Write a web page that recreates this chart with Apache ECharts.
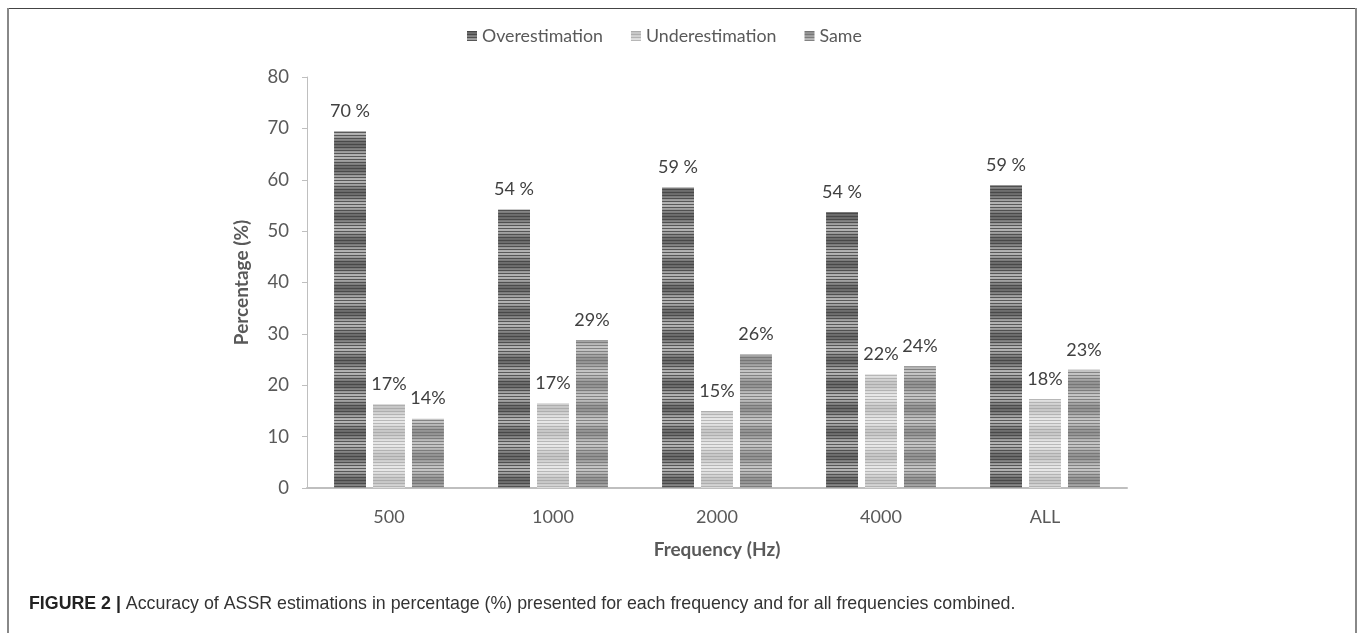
<!DOCTYPE html>
<html>
<head>
<meta charset="utf-8">
<script src="https://cdn.jsdelivr.net/npm/echarts@6/dist/echarts.min.js"></script>
<style>
html,body{margin:0;padding:0;background:#fff;}
#chart{width:1360px;height:633px;}
</style>
</head>
<body>
<div id="chart"></div>
<script>
var categories = ['500', '1000', '2000', '4000', 'ALL'];
var seriesNames = ['Overestimation', 'Underestimation', 'Same'];
var overValues = [69.5, 54.2, 58.5, 53.7, 59.0];
var underValues = [16.3, 16.5, 15.0, 22.2, 17.3];
var sameValues = [13.5, 28.8, 26.0, 23.7, 23.0];
var overLabels = ['70 %', '54 %', '59 %', '54 %', '59 %'];
var underLabels = ['17%', '17%', '15%', '22%', '18%'];
var sameLabels = ['14%', '29%', '26%', '24%', '23%'];
var yTicks = [0, 10, 20, 30, 40, 50, 60, 70, 80];

function stripePattern(dark, light, mid) {
  var c = document.createElement('canvas');
  c.width = 4; c.height = 24;
  var ctx = c.getContext('2d');
  for (var y = 0; y < 24; y++) {
    var band = (Math.cos(y / 24 * Math.PI * 2) + 1) / 2;
    var isDark = (y % 3 === 0);
    var v;
    if (isDark) v = dark + (mid - dark) * (1 - band) * 0.5;
    else v = mid + (light - mid) * (1 - band);
    v = Math.round(v);
    ctx.fillStyle = 'rgb(' + v + ',' + v + ',' + v + ')';
    ctx.fillRect(0, y, 4, 1);
  }
  return { image: c, repeat: 'repeat' };
}

var overFill = stripePattern(72, 180, 105);
var underFill = stripePattern(172, 232, 198);
var sameFill = stripePattern(118, 198, 145);

function mkSeries(name, values, labels, fill) {
  return {
    name: name,
    type: 'bar',
    barGap: '22%',
    barCategoryGap: '33%',
    data: values,
    itemStyle: { color: fill },
    label: {
      show: true,
      position: 'top',
      distance: 11,
      fontFamily: 'Lato',
      fontSize: 18,
      color: '#404040',
      formatter: function (p) { return labels[p.dataIndex]; }
    }
  };
}

var chart = echarts.init(document.getElementById('chart'), null, { renderer: 'canvas' });
chart.setOption({
  backgroundColor: '#fff',
  animation: false,
  legend: {
    data: seriesNames,
    left: 462,
    top: 22,
    itemWidth: 10,
    itemHeight: 10,
    itemGap: 28,
    icon: 'rect',
    textStyle: { fontFamily: 'Lato', fontSize: 17.8, color: '#595959' }
  },
  grid: { left: 307, right: 233, top: 77, bottom: 145, containLabel: false },
  xAxis: {
    type: 'category',
    data: categories,
    name: 'Frequency (Hz)',
    nameLocation: 'middle',
    nameGap: 52,
    nameTextStyle: { fontFamily: 'Lato', fontSize: 19, fontWeight: 'bold', color: '#595959' },
    axisLine: { lineStyle: { color: '#bfbfbf', width: 2 } },
    axisTick: { show: false },
    axisLabel: { margin: 20, fontFamily: 'Lato', fontSize: 18, color: '#595959' }
  },
  yAxis: {
    type: 'value',
    min: yTicks[0],
    max: yTicks[yTicks.length - 1],
    interval: yTicks[1] - yTicks[0],
    name: 'Percentage (%)',
    nameLocation: 'middle',
    nameGap: 56,
    nameTextStyle: { fontFamily: 'Lato', fontSize: 19, fontWeight: 'bold', color: '#595959' },
    axisLine: { show: true, lineStyle: { color: '#bfbfbf', width: 1 } },
    axisTick: { show: true, length: 5, lineStyle: { color: '#bfbfbf' } },
    splitLine: { show: false },
    axisLabel: { margin: 18, fontFamily: 'Lato', fontSize: 18.5, color: '#595959' }
  },
  series: [
    mkSeries(seriesNames[0], overValues, overLabels, overFill),
    mkSeries(seriesNames[1], underValues, underLabels, underFill),
    mkSeries(seriesNames[2], sameValues, sameLabels, sameFill)
  ],
  graphic: [
    { type: 'rect', shape: { x: 7, y: 8, width: 1349, height: 1 }, style: { fill: '#444' }, silent: true },
    { type: 'rect', shape: { x: 7, y: 8, width: 2, height: 625 }, style: { fill: '#888' }, silent: true },
    { type: 'rect', shape: { x: 1355, y: 8, width: 2, height: 625 }, style: { fill: '#888' }, silent: true },
    {
      type: 'text',
      left: 29,
      top: 595,
      style: {
        text: '{b|FIGURE 2 |} Accuracy of ASSR estimations in percentage (%) presented for each frequency and for all frequencies combined.',
        fontFamily: 'Liberation Sans',
        fontSize: 17.8,
        fill: '#333',
        rich: {
          b: { fontFamily: 'Liberation Sans', fontSize: 17.8, fontWeight: 'bold', fill: '#222' }
        }
      }
    }
  ]
});
</script>
</body>
</html>
